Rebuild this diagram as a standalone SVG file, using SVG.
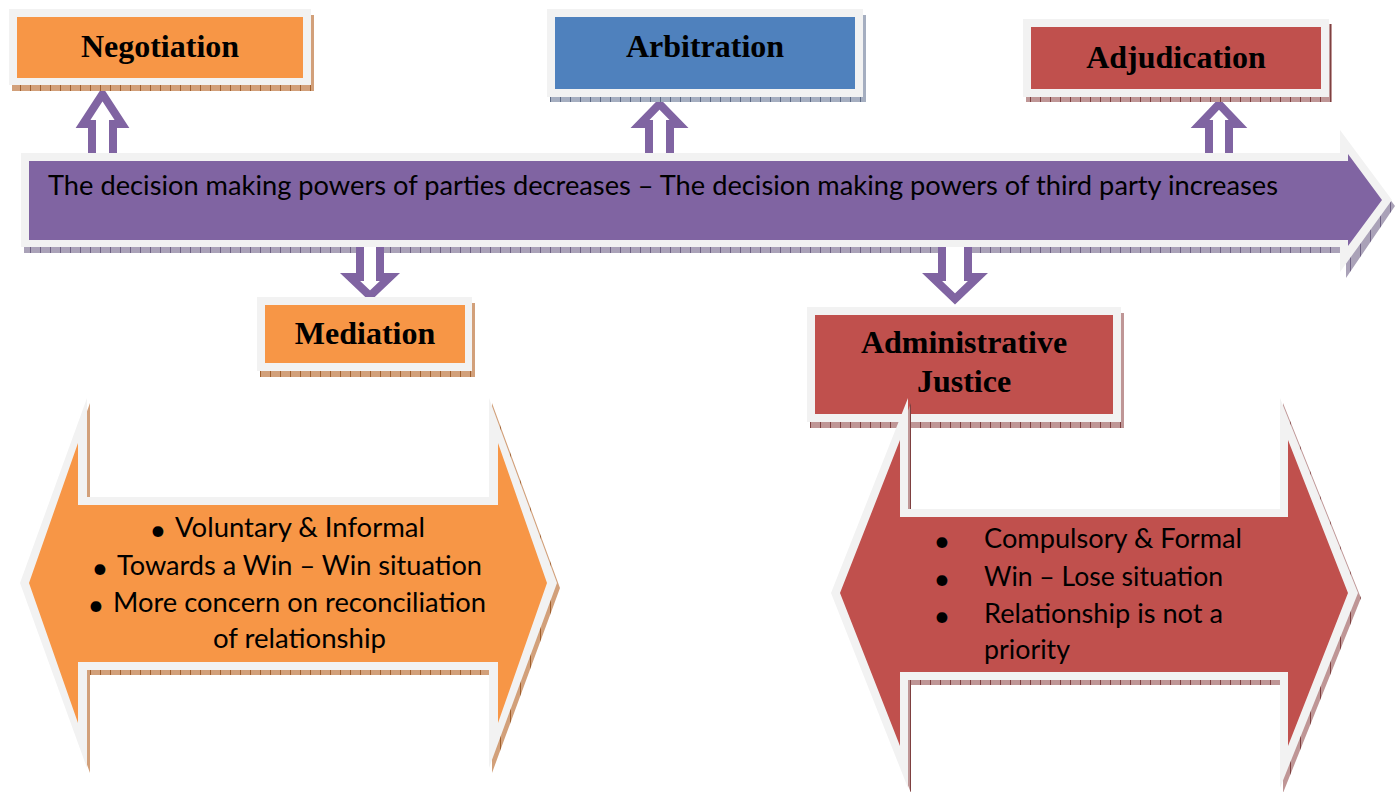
<svg xmlns="http://www.w3.org/2000/svg" width="1400" height="792" viewBox="0 0 1400 792">
<defs>
<pattern id="hO" width="10" height="10" patternUnits="userSpaceOnUse"><rect width="10" height="10" fill="#d2a07a"/><path d="M0.5 0V10" stroke="#a0602f" stroke-width="1"/></pattern>
<pattern id="hP" width="10" height="10" patternUnits="userSpaceOnUse"><rect width="10" height="10" fill="#aaa2b8"/><path d="M0.5 0V10" stroke="#6f6285" stroke-width="1"/></pattern>
<pattern id="hR" width="10" height="10" patternUnits="userSpaceOnUse"><rect width="10" height="10" fill="#bf9696"/><path d="M0.5 0V10" stroke="#7e4040" stroke-width="1"/></pattern>
<pattern id="hB" width="10" height="10" patternUnits="userSpaceOnUse"><rect width="10" height="10" fill="#a5aec0"/><path d="M0.5 0V10" stroke="#5d6b86" stroke-width="1"/></pattern>
</defs>
<style>
.frame{fill:#f2f2f2}
.orange{fill:#f79646}
.blue{fill:#4f81bd}
.red{fill:#c0504d}
.purple{fill:#8064a2}
.oa{fill:#ffffff;stroke:#8064a2;stroke-width:8;stroke-linejoin:miter;stroke-miterlimit:10}
.lbl{font-family:"Liberation Serif","Times New Roman",serif;font-weight:bold;font-size:32px;fill:#000;text-anchor:middle}
.body{font-family:Lato,"Open Sans",sans-serif;font-size:26px;fill:#000}
.bul{font-family:Lato,"Open Sans",sans-serif;font-size:29px;fill:#000;text-anchor:middle}
</style>
<rect width="1400" height="792" fill="#ffffff"/>

<g id="timeline">
<polygon points="24,159 1343,159 1343,136 1395,206 1346,278 1346,253 24,253" fill="url(#hP)"/>
<polygon class="frame" points="21,153 1340,153 1340,130 1392,200 1340,272 1340,247 21,247"/>
<polygon class="purple" points="29,161 1348,161 1348,154 1382,200 1348,246 1348,240 29,240"/>
<text class="body" x="48" y="195" textLength="1230" lengthAdjust="spacingAndGlyphs">The decision making powers of parties decreases – The decision making powers of third party increases</text>
</g>

<g id="connectors">
<path class="oa" d="M92,153 V124 H83 L102.5,94 L122,124 H113 V153"/>
<path class="oa" d="M649,153 V124 H640 L659.5,104 L679,124 H670 V153"/>
<path class="oa" d="M1209,153 V124 H1200 L1219,104 L1238,124 H1229 V153"/>
<path class="oa" d="M360,247 V277 H350 L370,296 L390,277 H380 V247"/>
<path class="oa" d="M942,247 V277 H932 L955,299 L978,277 H968 V247"/>
</g>

<g id="negotiation">
<rect x="12" y="15" width="302" height="76" fill="url(#hO)"/>
<rect class="frame" x="9" y="9" width="302" height="76"/>
<rect class="orange" x="17" y="17" width="286" height="61"/>
<text class="lbl" x="160" y="57">Negotiation</text>
</g>

<g id="arbitration">
<rect x="550" y="15" width="316" height="87" fill="url(#hB)"/>
<rect class="frame" x="547" y="9" width="316" height="88"/>
<rect class="blue" x="555" y="17" width="300" height="72"/>
<text class="lbl" x="705" y="57">Arbitration</text>
</g>

<g id="adjudication">
<rect x="1026" y="24" width="306" height="78" fill="url(#hR)"/>
<rect class="frame" x="1023" y="19" width="306" height="78"/>
<rect class="red" x="1031" y="27" width="290" height="62"/>
<text class="lbl" x="1176" y="68">Adjudication</text>
</g>

<g id="mediation">
<rect x="260" y="303" width="215" height="74" fill="url(#hO)"/>
<rect class="frame" x="257" y="297" width="215" height="74"/>
<rect class="orange" x="265" y="305" width="200" height="58"/>
<text class="lbl" x="365" y="344">Mediation</text>
</g>

<g id="administrative-justice">
<rect x="810" y="313" width="314" height="115" fill="url(#hR)"/>
<rect class="frame" x="807" y="307" width="314" height="115"/>
<rect class="red" x="815" y="315" width="298" height="99"/>
<text class="lbl" x="964" y="353">Administrative</text>
<text class="lbl" x="964" y="392">Justice</text>
</g>

<g id="consensual-features">
<polygon points="23,588 90,403 90,502 492,502 492,403 560,588 492,773 492,675 90,675 90,773" fill="url(#hO)"/>
<polygon class="frame" points="20,583 87,398 87,497 489,497 489,398 557,583 489,768 489,670 87,670 87,768"/>
<polygon class="orange" points="29,583 78,443 78,505 498,505 498,443 547,583 498,723 498,662 78,662 78,723"/>
<text class="bul" x="158" y="540">•</text>
<text class="body" x="175" y="537" textLength="250" lengthAdjust="spacingAndGlyphs">Voluntary &amp; Informal</text>
<text class="bul" x="100" y="578">•</text>
<text class="body" x="117" y="575" textLength="365" lengthAdjust="spacingAndGlyphs">Towards a Win – Win situation</text>
<text class="bul" x="96" y="615">•</text>
<text class="body" x="113" y="612" textLength="373" lengthAdjust="spacingAndGlyphs">More concern on reconciliation</text>
<text class="body" x="213" y="648" textLength="173" lengthAdjust="spacingAndGlyphs">of relationship</text>
</g>

<g id="adversarial-features">
<polygon points="834,598 911,403 911,514 1283,514 1283,403 1361,598 1283,793 1283,685 911,685 911,793" fill="url(#hR)"/>
<polygon class="frame" points="831,593 908,398 908,509 1280,509 1280,398 1358,593 1280,788 1280,680 908,680 908,788"/>
<polygon class="red" points="840,593 900,440 900,517 1288,517 1288,440 1348,593 1288,746 1288,672 900,672 900,746"/>
<text class="bul" x="942" y="551">•</text>
<text class="body" x="984" y="548" textLength="258" lengthAdjust="spacingAndGlyphs">Compulsory &amp; Formal</text>
<text class="bul" x="942" y="589">•</text>
<text class="body" x="984" y="586" textLength="239" lengthAdjust="spacingAndGlyphs">Win – Lose situation</text>
<text class="bul" x="942" y="626">•</text>
<text class="body" x="984" y="623" textLength="239" lengthAdjust="spacingAndGlyphs">Relationship is not a</text>
<text class="body" x="984" y="659" textLength="86" lengthAdjust="spacingAndGlyphs">priority</text>
</g>
</svg>
